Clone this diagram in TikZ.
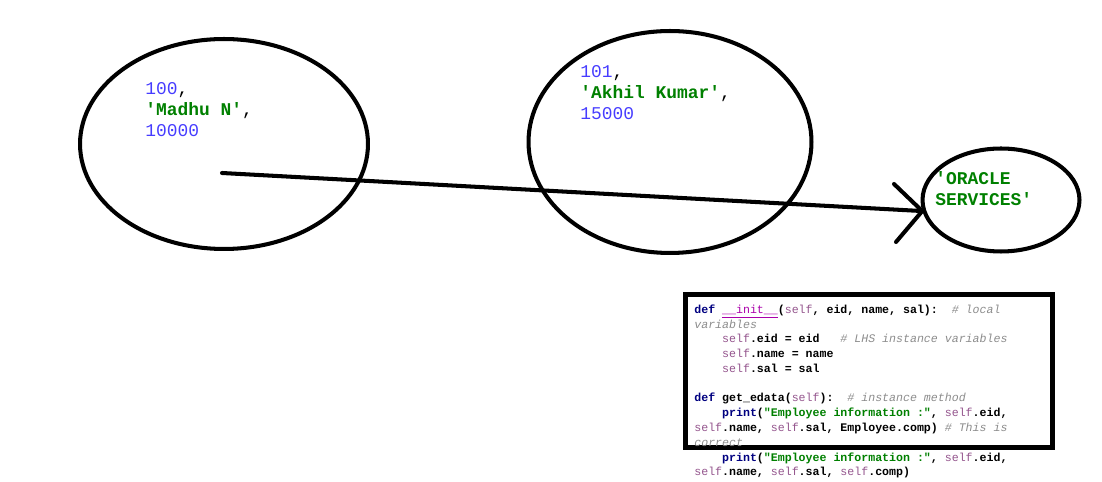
\documentclass[tikz,border=0pt]{standalone}
\usepackage{fontspec}
\setmonofont{Liberation Mono}
\usetikzlibrary{shapes.geometric}

\definecolor{numblue}{RGB}{70,60,255}
\definecolor{strgreen}{RGB}{0,128,0}
\definecolor{kwnavy}{RGB}{0,0,128}
\definecolor{initpurple}{RGB}{170,0,170}
\definecolor{selfpurple}{RGB}{148,85,141}
\definecolor{cmtgray}{RGB}{140,140,140}

\newcommand{\pynum}[1]{{\color{numblue}\mdseries #1}}
\newcommand{\pystr}[1]{{\color{strgreen}\bfseries #1}}
\newcommand{\kw}[1]{{\color{kwnavy}\bfseries #1}}
\newcommand{\slf}{{\color{selfpurple}\mdseries self}}
\newcommand{\cmt}[1]{{\color{cmtgray}\mdseries\itshape #1}}

\tikzset{
  blob/.style={draw, ellipse, line width=2.3pt, inner sep=0pt},
  wire/.style={line width=2.3pt, line cap=round},
  bigtxt/.style={align=left, inner sep=0pt, anchor=north west,
    font=\ttfamily\fontsize{10.2}{11.9}\selectfont},
  codetxt/.style={align=left, inner sep=0pt, anchor=north west,
    font=\ttfamily\bfseries\fontsize{6.6}{8.4}\selectfont}
}

\begin{document}
\begin{tikzpicture}[x=0.02cm, y=-0.02cm]
\useasboundingbox (0,0) rectangle (1102,482);
%objects
\node[blob, minimum width=5.76cm, minimum height=4.2cm] (emp1) at (224,144) {};
\node[blob, minimum width=5.66cm, minimum height=4.44cm] (emp2) at (670,142) {};
\node[blob, minimum width=3.14cm, minimum height=2.06cm] (orcl) at (1001,200) {};
%object data
\node[bigtxt] (data1) at (145,82) {\pynum{100},\\\pystr{'Madhu N'},\\\pynum{10000}};
\node[bigtxt] (data2) at (580,65) {\pynum{101},\\\pystr{'Akhil Kumar'},\\\pynum{15000}};
\node[bigtxt] (data3) at (935,171) {\pystr{'ORACLE}\\\pystr{SERVICES'}};
%reference arrow
\coordinate (start) at (222,173);
\coordinate (barb1) at (894,184);
\coordinate (barb2) at (896,242);
\draw[wire] (start) -- (orcl.188);
\draw[wire] (barb1) -- (orcl.188) -- (barb2);
%code box
\draw[line width=2.8pt] (685.5,294.5) rectangle (1052.5,447.5);
\node[codetxt] (code) at (694,304.5) {%
\kw{def} {\color{initpurple}\mdseries\underline{\_\_init\_\_}}(\slf, eid, name, sal):~~\cmt{\# local}\\
\cmt{variables}\\
~~~~\slf.eid = eid~~~\cmt{\# LHS instance variables}\\
~~~~\slf.name = name\\
~~~~\slf.sal = sal\\
~\\
\kw{def} get\_edata(\slf):~~\cmt{\# instance method}\\
~~~~\kw{print}(\pystr{"Employee information :"}, \slf.eid,\\
\slf.name, \slf.sal, Employee.comp)~\cmt{\# This is}\\
\cmt{correct}\\
~~~~\kw{print}(\pystr{"Employee information :"}, \slf.eid,\\
\slf.name, \slf.sal, \slf.comp)};
\end{tikzpicture}
\end{document}
